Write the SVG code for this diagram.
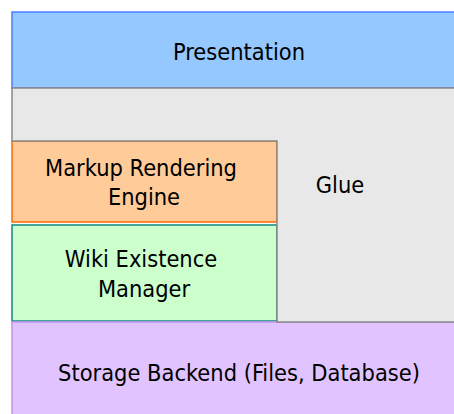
<svg xmlns="http://www.w3.org/2000/svg" width="454" height="414" viewBox="0 0 454 414">
  <style>
    text { font-family: "DejaVu Sans Condensed", "DejaVu Sans", sans-serif; font-size: 23.4px; fill: #000; text-anchor: middle; }
    .layer { stroke-width: 1.5; }
  </style>
  <rect width="454" height="414" fill="#ffffff"/>
  <g id="presentation">
    <rect class="layer" x="12" y="12" width="460" height="76" fill="#94c8ff" stroke="#4a7dff"/>
    <text x="239" y="60">Presentation</text>
  </g>
  <g id="markup-rendering-engine">
    <rect class="layer" x="12" y="141" width="265" height="81" fill="#ffcc99" stroke="#ff6a00"/>
    <text x="141" y="176">Markup Rendering</text>
    <text x="144" y="205">Engine</text>
  </g>
  <g id="wiki-existence-manager">
    <rect class="layer" x="12" y="225" width="265" height="96" fill="#ccffcc" stroke="#108880"/>
    <text x="141" y="267">Wiki Existence</text>
    <text x="144" y="297">Manager</text>
  </g>
  <g id="storage-backend">
    <rect class="layer" x="12" y="322" width="460" height="100" fill="#e1c4ff" stroke="#c493f2"/>
    <text x="239" y="381">Storage Backend (Files, Database)</text>
  </g>
  <g id="glue">
    <path class="layer" d="M12 88 H472 V322 H277 V141 H12 Z" fill="#e8e8e8" stroke="#888888"/>
    <text x="340" y="193">Glue</text>
  </g>
</svg>
